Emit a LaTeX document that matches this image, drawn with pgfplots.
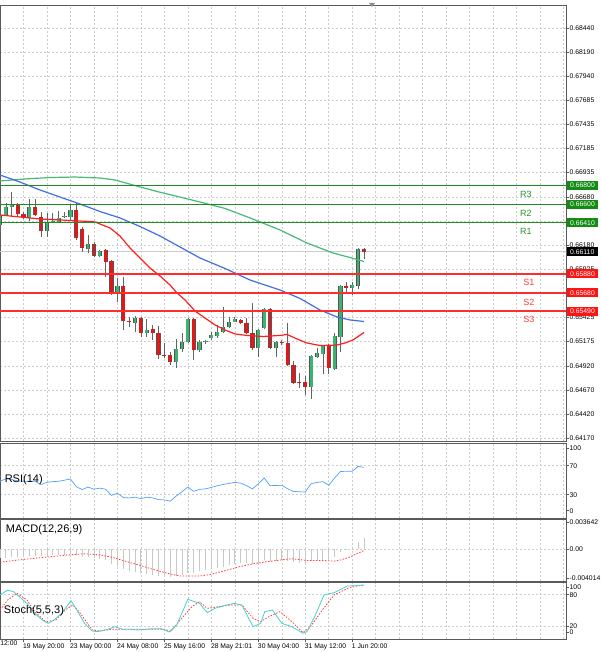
\documentclass[border=0pt]{standalone}
\usepackage{fontspec}
\setmainfont{Liberation Sans}
\usepackage{pgfplots}
\usepackage{pgfplotstable}
\pgfplotsset{compat=1.18}

\definecolor{bullc}{RGB}{60,179,113}
\definecolor{bearc}{RGB}{235,20,20}
\definecolor{edgec}{RGB}{85,85,85}
\definecolor{wickc}{RGB}{100,100,100}
\definecolor{rlinec}{RGB}{30,140,30}
\definecolor{slinec}{RGB}{255,45,45}
\definecolor{rtextc}{RGB}{40,150,40}
\definecolor{stextc}{RGB}{255,60,60}
\definecolor{rboxc}{RGB}{20,140,20}
\definecolor{sboxc}{RGB}{255,20,20}
\definecolor{redma}{RGB}{255,30,30}
\definecolor{bluema}{RGB}{65,110,230}
\definecolor{greenma}{RGB}{70,185,120}
\definecolor{rsic}{RGB}{80,160,255}
\definecolor{histc}{RGB}{200,200,200}
\definecolor{sigc}{RGB}{255,60,60}
\definecolor{stochc}{RGB}{72,209,204}
\definecolor{gridc}{RGB}{205,205,205}
\definecolor{framec}{RGB}{90,90,90}
\definecolor{bidc}{RGB}{205,205,205}

\newcommand\tk{\fontsize{6.8}{8}\selectfont}
\newcommand\ttl{\fontsize{11}{13}\selectfont}
\newcommand\rs{\fontsize{9}{11}\selectfont}

\pgfplotsset{
  panel/.style={
    scale only axis, width=566pt, anchor=south west,
    xmin=0, xmax=96.42, scaled ticks=false,
    xtick={4,8,...,96}, xticklabels={}, xtick style={draw=none},
    grid=major, major grid style={draw=gridc, dash pattern=on 2pt off 2pt, line width=0.5pt},
    axis line style={draw=framec, line width=0.9pt},
    ytick pos=right, yticklabel pos=right,
    tick align=outside, major tick length=2.5pt,
    ytick style={draw=framec, line width=0.5pt},
    yticklabel style={font=\tk, anchor=west, inner sep=0pt, xshift=1pt},
    tick label style={font=\tk},
  },
  wick/.style={draw=none, mark=none, error bars/.cd, y dir=plus, y explicit, error mark=none,
    error bar style={line width=0.7pt, draw=wickc, solid}},
  body/.style 2 args={draw=none, mark=none, error bars/.cd, y dir=plus, y explicit, error mark=none,
    error bar style={line width=#1, draw=#2, solid}},
}

\pgfplotstableread{
i o h l c
0 0.66388 0.66523 0.66304 0.66492
1 0.66492 0.66617 0.66481 0.66575
2 0.66575 0.66731 0.66471 0.66596
3 0.66596 0.66617 0.66481 0.66502
4 0.66502 0.66523 0.66450 0.66461
5 0.66461 0.66658 0.66429 0.66575
6 0.66575 0.66658 0.66481 0.66492
7 0.66471 0.66523 0.66263 0.66325
8 0.66325 0.66513 0.66263 0.66409
9 0.66419 0.66513 0.66409 0.66429
10 0.66419 0.66534 0.66409 0.66461
11 0.66471 0.66523 0.66461 0.66481
12 0.66471 0.66596 0.66440 0.66544
13 0.66544 0.66617 0.66232 0.66252
14 0.66346 0.66367 0.66107 0.66148
15 0.66138 0.66284 0.66096 0.66190
16 0.66190 0.66211 0.66055 0.66065
17 0.66065 0.66128 0.66055 0.66117
18 0.66128 0.66138 0.65846 0.66003
19 0.66013 0.66023 0.65659 0.65690
20 0.65690 0.65836 0.65586 0.65753
21 0.65753 0.65846 0.65295 0.65388
22 0.65388 0.65430 0.65326 0.65378
23 0.65368 0.65440 0.65274 0.65419
24 0.65419 0.65430 0.65222 0.65264
25 0.65264 0.65409 0.65222 0.65295
26 0.65305 0.65347 0.65191 0.65264
27 0.65264 0.65336 0.64993 0.65034
28 0.65034 0.65159 0.65003 0.65024
29 0.65034 0.65065 0.64930 0.64961
30 0.64961 0.65201 0.64899 0.65097
31 0.65097 0.65264 0.65065 0.65170
32 0.65170 0.65419 0.65159 0.65409
33 0.65409 0.65419 0.64982 0.65086
34 0.65086 0.65191 0.65065 0.65170
35 0.65170 0.65191 0.65149 0.65180
36 0.65211 0.65274 0.65191 0.65243
37 0.65232 0.65347 0.65211 0.65274
38 0.65274 0.65534 0.65264 0.65326
39 0.65326 0.65430 0.65316 0.65378
40 0.65378 0.65430 0.65373 0.65409
41 0.65399 0.65409 0.65357 0.65368
42 0.65368 0.65419 0.65253 0.65264
43 0.65264 0.65576 0.65086 0.65107
44 0.65107 0.65305 0.65013 0.65295
45 0.65316 0.65524 0.65305 0.65513
46 0.65513 0.65524 0.65097 0.65107
47 0.65107 0.65180 0.65013 0.65170
48 0.65170 0.65191 0.65138 0.65159
49 0.65159 0.65368 0.64919 0.64930
50 0.64930 0.64972 0.64733 0.64743
51 0.64753 0.64847 0.64691 0.64743
52 0.64753 0.64815 0.64618 0.64701
53 0.64701 0.65034 0.64576 0.65024
54 0.65013 0.65107 0.65003 0.65055
55 0.65045 0.65138 0.64836 0.65128
56 0.65128 0.65149 0.64836 0.64899
57 0.64888 0.65264 0.64878 0.65232
58 0.65222 0.65763 0.65065 0.65753
59 0.65753 0.65794 0.65669 0.65732
60 0.65732 0.65794 0.65659 0.65763
61 0.65753 0.66148 0.65721 0.66138
62 0.66138 0.66148 0.66034 0.66110
}\candles

\begin{document}
\begin{tikzpicture}[x=1pt,y=1pt]
\useasboundingbox (0pt,0pt) rectangle (600pt,652pt);

% ---------------- main price panel ----------------
\begin{axis}[panel, name=main, at={(0pt,211pt)}, height=436pt,
  ymin=0.64139, ymax=0.68678, clip=false,
  ytick={0.64170,0.64420,0.64670,0.64920,0.65175,0.65425,0.65675,0.65925,0.66180,0.66430,0.66680,0.66935,0.67185,0.67435,0.67685,0.67940,0.68190,0.68440},
  yticklabels={0.64170,0.64420,0.64670,0.64920,0.65175,0.65425,,0.65925,0.66180,,0.66680,0.66935,0.67185,0.67435,0.67685,0.67940,0.68190,0.68440},
]
% bid line
\addplot[bidc, line width=0.8pt] coordinates {(0,0.66110) (96.42,0.66110)};
% wicks
\addplot[wick] table[x=i, y=l, y error plus expr={\thisrow{h}-\thisrow{l}}] {\candles};
% bull bodies (zero length for bear candles)
\addplot[body={4.2pt}{edgec}] table[x=i, y=o, y error plus expr={max(\thisrow{c}-\thisrow{o},0)}] {\candles};
\addplot[body={2.8pt}{bullc}] table[x=i, y=o, y error plus expr={max(\thisrow{c}-\thisrow{o},0)}] {\candles};
% bear bodies (zero length for bull candles)
\addplot[body={4.2pt}{edgec}] table[x=i, y=c, y error plus expr={max(\thisrow{o}-\thisrow{c},0)}] {\candles};
\addplot[body={2.8pt}{bearc}] table[x=i, y=c, y error plus expr={max(\thisrow{o}-\thisrow{c},0)}] {\candles};

% moving averages
\addplot[greenma, line width=1.2pt] coordinates {
(0,0.66846)(4.26,0.66867)(8.52,0.66882)(12.78,0.66887)(17.04,0.66877)(19.59,0.66856)(22.66,0.66804)(26.75,0.66736)(30.66,0.66679)(34.07,0.66627)(38.33,0.66560)(42.59,0.66461)(47.70,0.66336)(52.30,0.66200)(56.73,0.66096)(59.63,0.66049)(62.01,0.66007)};
\addplot[bluema, line width=1.2pt] coordinates {
(0,0.66908)(3.41,0.66835)(6.81,0.66752)(10.22,0.66679)(13.63,0.66606)(17.04,0.66528)(20.44,0.66461)(23.85,0.66372)(27.26,0.66273)(30.66,0.66159)(34.07,0.66044)(38.33,0.65935)(42.59,0.65815)(47.70,0.65711)(51.11,0.65623)(54.51,0.65503)(57.41,0.65430)(59.63,0.65399)(62.01,0.65383)};
\addplot[redma, line width=1.2pt] coordinates {
(0,0.66492)(3.41,0.66471)(6.81,0.66450)(10.22,0.66440)(13.63,0.66429)(15.33,0.66424)(16.18,0.66419)(17.04,0.66398)(18.74,0.66357)(20.44,0.66273)(22.15,0.66148)(23.85,0.66044)(25.55,0.65940)(27.26,0.65857)(28.96,0.65763)(30.15,0.65680)(31.52,0.65607)(33.22,0.65492)(34.92,0.65419)(36.63,0.65347)(38.33,0.65295)(40.03,0.65253)(42.08,0.65238)(44.80,0.65227)(47.70,0.65238)(48.89,0.65248)(50.60,0.65201)(52.30,0.65159)(54.51,0.65133)(57.41,0.65138)(58.77,0.65159)(60.14,0.65191)(62.01,0.65269)};

% resistance / support levels
\addplot[rlinec, line width=1.3pt] coordinates {(0,0.66800) (96.42,0.66800)};
\addplot[rlinec, line width=1.3pt] coordinates {(0,0.66600) (96.42,0.66600)};
\addplot[rlinec, line width=1.3pt] coordinates {(0,0.66410) (96.42,0.66410)};
\addplot[slinec, line width=1.5pt] coordinates {(0,0.65880) (96.42,0.65880)};
\addplot[slinec, line width=1.5pt] coordinates {(0,0.65680) (96.42,0.65680)};
\addplot[slinec, line width=1.5pt] coordinates {(0,0.65490) (96.42,0.65490)};

\node[font=\rs, text=rtextc] at (axis cs:89.6,0.66710) {R3};
\node[font=\rs, text=rtextc] at (axis cs:89.6,0.66509) {R2};
\node[font=\rs, text=rtextc] at (axis cs:89.6,0.66325) {R1};
\node[font=\rs, text=stextc] at (axis cs:90.1,0.65791) {S1};
\node[font=\rs, text=stextc] at (axis cs:90.1,0.65579) {S2};
\node[font=\rs, text=stextc] at (axis cs:90.1,0.65400) {S3};

\tikzset{pbox/.style={font=\tk, text=white, anchor=west, inner xsep=3.5pt, inner ysep=0pt, minimum height=9pt, xshift=0.5pt}}
\node[pbox, fill=rboxc] at (axis cs:96.42,0.66800) {0.66800};
\node[pbox, fill=rboxc] at (axis cs:96.42,0.66600) {0.66600};
\node[pbox, fill=rboxc] at (axis cs:96.42,0.66410) {0.66410};
\node[pbox, fill=black] at (axis cs:96.42,0.66110) {0.66110};
\node[pbox, fill=sboxc] at (axis cs:96.42,0.65880) {0.65880};
\node[pbox, fill=sboxc] at (axis cs:96.42,0.65680) {0.65680};
\node[pbox, fill=sboxc] at (axis cs:96.42,0.65490) {0.65490};
\end{axis}

% ---------------- RSI ----------------
\begin{axis}[panel, name=rsi, at={(0pt,134pt)}, height=75pt,
  ymin=-2.2, ymax=101.3,
  ytick={30,70}, yticklabels={30,70},
  extra y ticks={7.9,94.4}, extra y tick labels={0,100}, extra y tick style={grid=none},
]
\addplot[rsic, line width=0.7pt] coordinates {
(0,48.4)(1,52)(2,51)(3,49)(4,48.4)(5,48.5)(6,48.4)(7,44)(8,47)(9,48)(10,48.5)(11,50)(12,51.6)(13,41)(14,37)(15,40.5)(16,37.5)(17,39)(18,37.5)(19,29)(20,32)(21,26)(22,25.5)(23,26.5)(24,24.5)(25,26.5)(26,25.5)(27,23.2)(28,22.8)(29,21)(30,28)(31,34)(32,40.6)(33,34.6)(34,37.3)(35,38)(36,40)(37,42.3)(38,44)(39,45.5)(40,47)(41,46)(42,42.5)(43,38)(44,45)(45,53)(46,42.4)(47,42.7)(48,42.9)(49,38)(50,34.5)(51,34)(52,33.7)(53,45.2)(54,46.8)(55,48)(56,43)(57,53)(58,62)(59,62.2)(60,62.2)(61,69)(62,67.7)};
\end{axis}

% ---------------- MACD ----------------
\begin{axis}[panel, name=macd, at={(0pt,71pt)}, height=62pt,
  ymin=-0.00441, ymax=0.0041,
  ytick={0}, yticklabels={0.00},
  extra y ticks={0.003642,-0.004014}, extra y tick labels={0.003642,-0.004014}, extra y tick style={grid=none},
]
\addplot[ycomb, histc, line width=0.8pt] coordinates {
(0,-0.00127)(1,-0.00123)(2,-0.00118)(3,-0.00114)(4,-0.00109)(5,-0.00100)(6,-0.00096)(7,-0.00100)(8,-0.00096)(9,-0.00091)(10,-0.00086)(11,-0.00082)(12,-0.00077)(13,-0.00091)(14,-0.00109)(15,-0.00118)(16,-0.00127)(17,-0.00137)(18,-0.00159)(19,-0.00205)(20,-0.00237)(21,-0.00273)(22,-0.00300)(23,-0.00319)(24,-0.00337)(25,-0.00350)(26,-0.00360)(27,-0.00369)(28,-0.00378)(29,-0.00387)(30,-0.00373)(31,-0.00355)(32,-0.00328)(33,-0.00328)(34,-0.00309)(35,-0.00296)(36,-0.00282)(37,-0.00264)(38,-0.00246)(39,-0.00228)(40,-0.00209)(41,-0.00200)(42,-0.00196)(43,-0.00205)(44,-0.00191)(45,-0.00159)(46,-0.00168)(47,-0.00164)(48,-0.00155)(49,-0.00164)(50,-0.00182)(51,-0.00191)(52,-0.00200)(53,-0.00173)(54,-0.00159)(55,-0.00146)(56,-0.00150)(57,-0.00114)(58,-0.00046)(59,-0.00014)(60,0.00010)(61,0.00100)(62,0.00146)};
\addplot[sigc, line width=0.8pt, dash pattern=on 1.5pt off 1.5pt] coordinates {
(0,-0.00182)(3.9,-0.00146)(7.8,-0.00114)(11.8,-0.00082)(14.4,-0.00068)(17,-0.00082)(19,-0.00114)(20.9,-0.00159)(23.5,-0.00218)(26.1,-0.00282)(28.8,-0.00341)(30.7,-0.00373)(34,-0.00373)(35.6,-0.00355)(37.9,-0.00309)(40.5,-0.00250)(43.1,-0.00205)(45.8,-0.00173)(48.4,-0.00146)(49.7,-0.00137)(52.3,-0.00159)(54.9,-0.00159)(56.9,-0.00168)(58.2,-0.00150)(59.5,-0.00114)(61.1,-0.00055)(62,-0.00023)};
\end{axis}

% ---------------- Stochastic ----------------
\begin{axis}[panel, name=stoch, at={(0pt,12.7pt)}, height=56.6pt,
  ymin=-5.5, ymax=103,
  ytick={20,80}, yticklabels={20,80},
  extra y ticks={7.9,94}, extra y tick labels={0,100}, extra y tick style={grid=none},
  xtick pos=bottom,
  extra x ticks={4,12,20,28,36,44,52,60},
  extra x tick labels={19 May 20:00,23 May 00:00,24 May 08:00,25 May 16:00,28 May 21:01,30 May 04:00,31 May 12:00,1 Jun 20:00},
  extra x tick style={grid=none, xtick style={draw=framec, line width=0.5pt}, major tick length=3pt,
     xticklabel style={font=\tk, anchor=north west, inner sep=0pt, xshift=-0.5pt, yshift=-1.5pt}},
]
\addplot[sigc, line width=0.8pt, dash pattern=on 1.5pt off 1.5pt] coordinates {
(0,50.6)(1.3,69.8)(2.9,82.6)(4.6,69.8)(5.9,47.5)(7.8,28.3)(9.5,31.5)(11.1,50.6)(12.4,60.2)(13.7,44.3)(15.7,12.4)(17,10.4)(19,13.6)(21.6,13.6)(26.1,13.6)(28.1,13.6)(29.1,9.2)(30.7,31.5)(32.7,57)(34,66.6)(35.3,53.8)(37.3,57)(39.2,60.2)(41.2,60.2)(43.1,34.7)(44.4,28.3)(45.8,37.9)(47.7,47.5)(49.7,28.3)(51.6,7.2)(52.9,18.7)(54.9,50.6)(56.9,79.4)(59.2,92.1)(60.8,96.6)(62,98.5)};
\addplot[stochc, line width=0.8pt] coordinates {
(0,79.4)(1.3,88.9)(2.3,85.7)(3.3,76.2)(4.6,63.4)(5.9,44.3)(7.2,31.5)(8.2,25.1)(9.2,31.5)(10.5,44.3)(12.1,68.5)(13.1,50.6)(14.4,25.1)(15.7,10.4)(16.7,9.2)(18.3,13.6)(19.6,18.7)(20.9,13.6)(22.2,13.6)(23.5,12.4)(24.8,13.6)(26.1,14.9)(27.5,14.9)(28.8,8.5)(30.1,21.9)(32,71.1)(34,63.4)(35.3,45.5)(36.6,53.8)(38.6,60.2)(39.9,63.4)(41.2,60.2)(43.1,18.7)(44.4,25.1)(45.1,47.5)(46.4,50.6)(48,25.1)(49.7,18.7)(51.6,6)(52.3,9.2)(53.6,37.9)(55.2,79.4)(56.9,83.8)(59.2,96.6)(60.5,97.2)(62,98.5)};
\end{axis}

% panel titles and cut-off first time label
\node[font=\ttl, anchor=west, inner sep=0pt] at (4.6pt,172.7pt) {RSI(14)};
\node[font=\ttl, anchor=west, inner sep=0pt] at (5.7pt,122pt) {MACD(12,26,9)};
\node[font=\ttl, anchor=west, inner sep=0pt] at (3.8pt,41.3pt) {Stoch(5,5,3)};
\node[font=\tk, anchor=north west, inner sep=0pt] at (-24pt,11.2pt) {18 May 12:00};
% chart shift marker
\fill[black!45] (369pt,649pt) -- (375pt,649pt) -- (372pt,645pt) -- cycle;
\end{tikzpicture}
\end{document}
